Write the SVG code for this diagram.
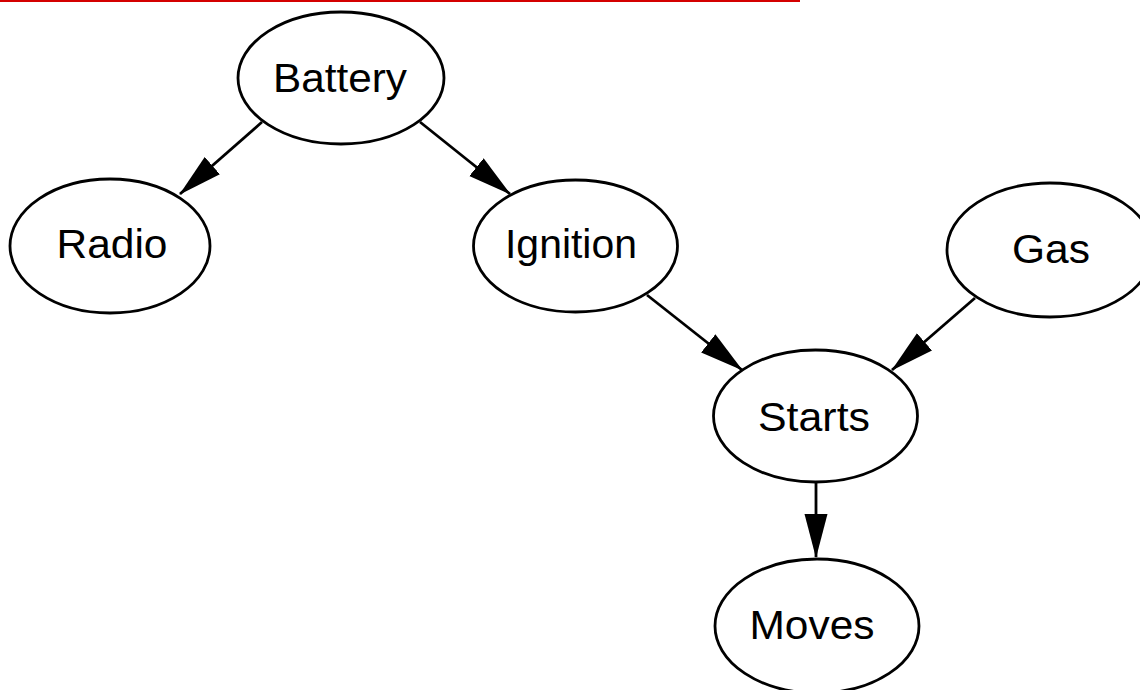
<svg xmlns="http://www.w3.org/2000/svg" width="1140" height="690" viewBox="0 0 1140 690">
<style>
.node ellipse{fill:#fff;stroke:#000;stroke-width:2.8}
.node text{font-family:"Liberation Sans",Arial,sans-serif;font-size:41px;fill:#000;text-anchor:middle}
.edge{stroke:#000;stroke-width:2.8;fill:none;marker-end:url(#arr)}
</style>
<defs>
<marker id="arr" markerUnits="userSpaceOnUse" markerWidth="44" markerHeight="24" refX="43" refY="12" orient="auto" viewBox="0 0 44 24">
<path d="M0,0.5 L44,12 L0,23.5 z" fill="#000"/>
</marker>
</defs>
<rect width="1140" height="690" fill="#fff"/>
<line x1="0" y1="1" x2="800" y2="1" stroke="#d40000" stroke-width="2"/>
<g id="connectors">
<line class="edge" x1="262" y1="122" x2="180" y2="194"/>
<line class="edge" x1="420" y1="122" x2="510" y2="194"/>
<line class="edge" x1="647" y1="295" x2="742" y2="370"/>
<line class="edge" x1="975" y1="298" x2="892" y2="370"/>
<line class="edge" x1="816" y1="483" x2="816" y2="557"/>
</g>
<g id="battery" class="node"><ellipse cx="341" cy="78" rx="103" ry="66"/><text x="340" y="92" textLength="134" lengthAdjust="spacingAndGlyphs">Battery</text></g>
<g id="radio" class="node"><ellipse cx="110" cy="246" rx="100" ry="67"/><text x="112" y="258" textLength="111" lengthAdjust="spacingAndGlyphs">Radio</text></g>
<g id="ignition" class="node"><ellipse cx="575.5" cy="246" rx="102" ry="66"/><text x="571" y="258" textLength="132" lengthAdjust="spacingAndGlyphs">Ignition</text></g>
<g id="gas" class="node"><ellipse cx="1050" cy="250" rx="103" ry="67"/><text x="1051" y="263" textLength="78" lengthAdjust="spacingAndGlyphs">Gas</text></g>
<g id="starts" class="node"><ellipse cx="815.5" cy="416" rx="102" ry="66"/><text x="814" y="431" textLength="112" lengthAdjust="spacingAndGlyphs">Starts</text></g>
<g id="moves" class="node"><ellipse cx="817" cy="626" rx="102" ry="67"/><text x="812" y="639" textLength="125" lengthAdjust="spacingAndGlyphs">Moves</text></g>
</svg>
